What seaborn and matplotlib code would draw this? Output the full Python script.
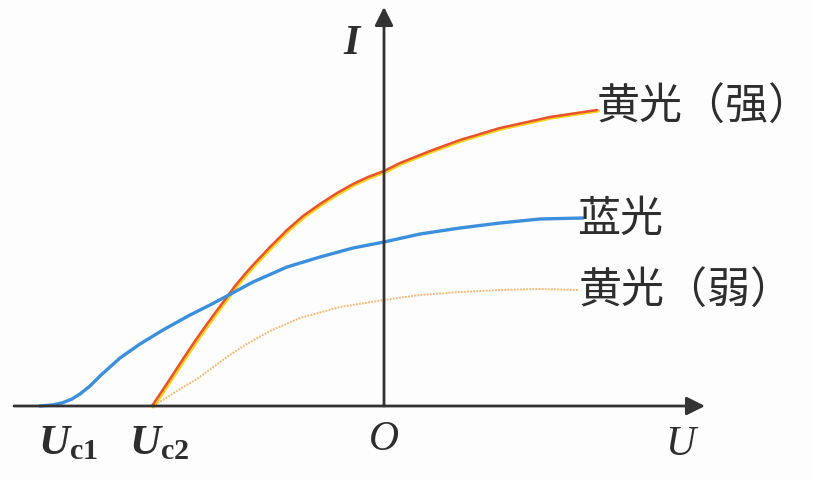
import numpy as np
import matplotlib
matplotlib.use("Agg")
import matplotlib.pyplot as plt
import matplotlib.transforms as mtransforms
import seaborn as sns

# curves (U, I in arbitrary units, origin at O)
blue_u = [-3.44, -3.32, -3.22, -3.12, -3.04, -2.94, -2.84, -2.74, -2.64, -2.44, -2.21, -1.94,
          -1.74, -1.57, -1.31, -0.97, -0.64, -0.31, 0.00, 0.36, 0.76, 1.16, 1.56, 1.99]
blue_i = [0.00, 0.01, 0.03, 0.07, 0.12, 0.20, 0.30, 0.39, 0.48, 0.62, 0.76, 0.91,
          1.01, 1.10, 1.24, 1.39, 1.49, 1.58, 1.64, 1.72, 1.78, 1.83, 1.87, 1.88]

strong_u = [-2.32, -2.16, -2.01, -1.89, -1.77, -1.66, -1.57, -1.49, -1.39, -1.31, -1.14, -0.97,
            -0.81, -0.64, -0.47, -0.31, -0.16, 0.00, 0.16, 0.46, 0.76, 1.16, 1.66, 2.13]
strong_i = [0.00, 0.24, 0.47, 0.65, 0.82, 0.97, 1.09, 1.20, 1.32, 1.41, 1.59, 1.76,
            1.90, 2.02, 2.13, 2.22, 2.29, 2.35, 2.43, 2.55, 2.66, 2.78, 2.89, 2.96]

weak_u = [-2.32, -2.21, -2.04, -1.87, -1.72, -1.57, -1.39, -1.14, -0.84, -0.44, 0.00,
          0.36, 0.76, 1.16, 1.56, 1.94]
weak_i = [0.00, 0.06, 0.17, 0.27, 0.38, 0.49, 0.61, 0.75, 0.88, 0.99, 1.06,
          1.11, 1.14, 1.16, 1.17, 1.16]

labels = ["黄光（强）", "蓝光", "黄光（弱）"]
label_pos = [(2.13, 2.98), (1.93, 1.86), (1.95, 1.14)]

sns.set_style("white")
plt.rcParams['font.family'] = ['Noto Sans CJK SC', 'DejaVu Sans']
plt.rcParams['mathtext.fontset'] = 'custom'
plt.rcParams['mathtext.it'] = 'Liberation Serif:italic:bold'
plt.rcParams['mathtext.rm'] = 'Liberation Serif:bold'

fig = plt.figure(figsize=(8.13, 4.79), dpi=100, facecolor="#fdfdfd")
ax = fig.add_axes([0, 0, 1, 1])
ax.set_facecolor("#fdfdfd")
ax.set_xlim(-3.84, 4.29)
ax.set_ylim(-0.73, 4.06)
ax.axis("off")

axis_col = "#333333"
# axes with arrows
ax.annotate("", xy=(3.21, 0), xytext=(-3.70, 0),
            arrowprops=dict(arrowstyle="-|>", mutation_scale=28, lw=2.0, color=axis_col,
                            shrinkA=0, shrinkB=0))
ax.annotate("", xy=(0, 3.99), xytext=(0, 0),
            arrowprops=dict(arrowstyle="-|>", mutation_scale=28, lw=2.0, color=axis_col,
                            shrinkA=0, shrinkB=0))

# weak yellow
sns.lineplot(x=weak_u, y=weak_i, ax=ax, color="#f2b46a", lw=1.4, ls=(0, (1, 0.6)),
             alpha=0.9, estimator=None)
# strong yellow: yellow edge under an orange-red line
shift = mtransforms.offset_copy(ax.transData, fig=fig, x=1.5, y=-1.0, units="dots")
ax.plot(strong_u, strong_i, color="#f6d21c", lw=2.2, transform=shift,
        solid_capstyle="round", solid_joinstyle="round")
sns.lineplot(x=strong_u, y=strong_i, ax=ax, color="#e8532e", lw=1.8, estimator=None,
             solid_joinstyle="round")
# blue
sns.lineplot(x=blue_u, y=blue_i, ax=ax, color="#3b8fdc", lw=2.4, estimator=None,
             solid_joinstyle="round")

txt_col = "#2e2e2e"
for lab, (x, y) in zip(labels, label_pos):
    ax.text(x, y, lab, fontsize=31, color=txt_col, ha="left", va="center")

ax.text(-0.32, 3.62, "I", fontsize=30, family="Liberation Serif", style="italic",
        weight="bold", color=txt_col, ha="center", va="center")
ax.text(2.96, -0.39, "U", fontsize=30, family="Liberation Serif", style="italic",
        color=txt_col, ha="center", va="center")
ax.text(0.0, -0.34, "O", fontsize=30, family="Liberation Serif", style="italic",
        color=txt_col, ha="center", va="center")
ax.text(-3.46, -0.36, r"$U_{\mathrm{c1}}$", fontsize=31, color=txt_col, ha="left", va="center")
ax.text(-2.55, -0.36, r"$U_{\mathrm{c2}}$", fontsize=31, color=txt_col, ha="left", va="center")

fig.savefig("out.png", dpi=100, facecolor=fig.get_facecolor())
